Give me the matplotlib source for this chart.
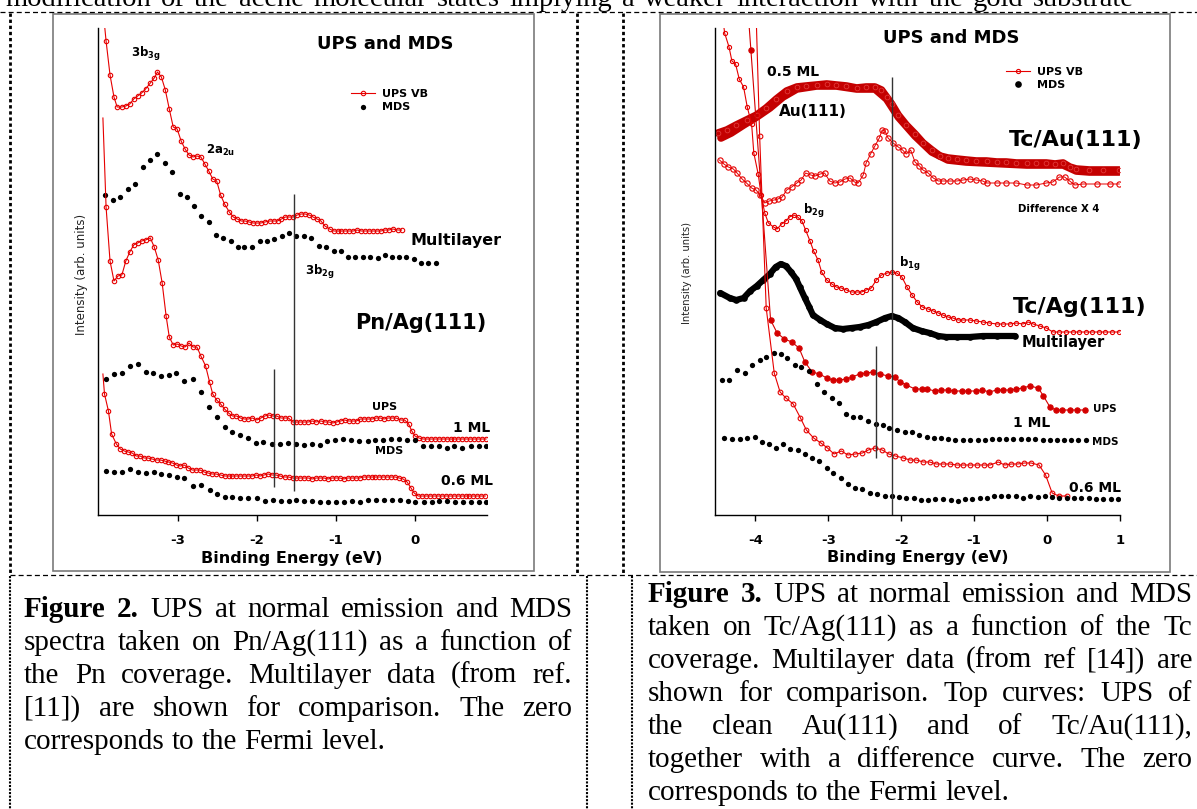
import matplotlib
matplotlib.use("Agg")
import matplotlib.pyplot as plt
from matplotlib.lines import Line2D
from matplotlib.patches import Rectangle

plt.rcParams["font.family"] = ["DejaVu Sans"]
plt.rcParams["axes.unicode_minus"] = False
plt.rcParams["mathtext.fontset"] = "dejavusans"

# ---------------- data: Pn/Ag(111) (figure 2) ----------------
pn_ml_ups_x = [-3.96, -3.91, -3.86, -3.81, -3.77, -3.71, -3.66, -3.61, -3.56, -3.51,
               -3.46, -3.41, -3.35, -3.30, -3.26, -3.21, -3.16, -3.11, -3.06, -3.01,
               -2.96, -2.91, -2.86, -2.81, -2.76, -2.71, -2.66, -2.61, -2.56, -2.51,
               -2.46, -2.41, -2.35, -2.30, -2.25, -2.20, -2.15, -2.10, -2.05, -2.00,
               -1.95, -1.90, -1.84, -1.79, -1.74, -1.69, -1.64, -1.59, -1.54, -1.49,
               -1.44, -1.39, -1.34, -1.29, -1.24, -1.19, -1.14, -1.08, -1.03, -0.98,
               -0.93, -0.88, -0.83, -0.78, -0.73, -0.68, -0.63, -0.58, -0.53, -0.48,
               -0.43, -0.38, -0.33, -0.28, -0.22, -0.17]
pn_ml_ups_y = [515, 474, 440, 418, 408, 408, 409, 411, 416, 419,
               422, 426, 432, 437, 443, 438, 425, 406, 388, 386,
               374, 366, 360, 358, 359, 358, 351, 344, 336, 334,
               320, 311, 303, 298, 296, 294, 294, 293, 292, 292,
               292, 293, 294, 294, 294, 296, 298, 298, 298, 300,
               301, 301, 300, 298, 296, 294, 289, 286, 284, 284,
               284, 284, 284, 284, 285, 284, 284, 284, 284, 284,
               284, 285, 285, 286, 285, 285]

pn_ml_mds_x = [-3.92, -3.82, -3.73, -3.63, -3.54, -3.44, -3.35, -3.26, -3.17, -3.08,
               -2.98, -2.89, -2.80, -2.71, -2.61, -2.52, -2.43, -2.33, -2.24, -2.16,
               -2.06, -1.96, -1.87, -1.78, -1.68, -1.59, -1.50, -1.41, -1.31, -1.22,
               -1.13, -1.03, -0.94, -0.85, -0.76, -0.66, -0.57, -0.47, -0.38, -0.29,
               -0.20, -0.11, -0.01, 0.08, 0.17, 0.27]
pn_ml_mds_y = [320, 315, 318, 326, 331, 348, 355, 361, 352, 343,
               321, 318, 309, 299, 293, 280, 277, 274, 268, 268,
               268, 274, 274, 276, 279, 282, 279, 279, 277, 269,
               268, 264, 264, 258, 258, 258, 258, 257, 260, 258,
               258, 258, 256, 252, 252, 252]

pn_1ml_ups_x = [-3.95, -3.91, -3.86, -3.81, -3.76, -3.71, -3.66, -3.61, -3.56, -3.51,
                -3.46, -3.41, -3.35, -3.30, -3.25, -3.20, -3.15, -3.11, -3.06, -3.01,
                -2.96, -2.91, -2.86, -2.81, -2.76, -2.71, -2.65, -2.60, -2.56, -2.51,
                -2.46, -2.41, -2.36, -2.31, -2.26, -2.21, -2.16, -2.11, -2.06, -2.00,
                -1.95, -1.90, -1.85, -1.80, -1.75, -1.70, -1.65, -1.60, -1.55, -1.50,
                -1.45, -1.40, -1.35, -1.30, -1.25, -1.19, -1.14, -1.09, -1.04, -0.99,
                -0.94, -0.89, -0.84, -0.79, -0.74, -0.69, -0.64, -0.59, -0.54, -0.49,
                -0.44, -0.39, -0.34, -0.29, -0.24, -0.18, -0.13, -0.08, -0.04, 0.00,
                0.05, 0.10, 0.15, 0.20, 0.25, 0.30, 0.35, 0.40, 0.45, 0.50,
                0.55, 0.60, 0.65, 0.70, 0.75, 0.80, 0.85, 0.90]
pn_1ml_ups_y = [397, 308, 254, 234, 239, 240, 254, 263, 270, 272,
                274, 275, 277, 268, 255, 232, 199, 178, 170, 171,
                169, 168, 172, 168, 168, 159, 149, 133, 121, 115,
                111, 106, 102, 99, 99, 97, 96, 96, 97, 95,
                97, 99, 100, 99, 99, 97, 97, 97, 93, 93,
                93, 93, 93, 94, 93, 94, 93, 93, 92, 93,
                94, 95, 94, 94, 94, 96, 96, 96, 96, 97,
                97, 96, 97, 97, 97, 95, 95, 91, 84, 79,
                77, 76, 76, 76, 76, 76, 76, 76, 76, 76,
                76, 76, 76, 76, 76, 76, 76, 76]

pn_1ml_mds_x = [-3.91, -3.81, -3.71, -3.61, -3.51, -3.41, -3.31, -3.21, -3.11, -3.02,
                -2.92, -2.81, -2.71, -2.61, -2.51, -2.41, -2.31, -2.22, -2.11, -2.01,
                -1.92, -1.81, -1.71, -1.61, -1.51, -1.41, -1.30, -1.20, -1.11, -1.01,
                -0.91, -0.81, -0.71, -0.60, -0.50, -0.40, -0.30, -0.20, -0.10, 0.00,
                0.10, 0.20, 0.30, 0.40, 0.50, 0.60, 0.71, 0.81, 0.90]
pn_1ml_mds_y = [136, 141, 142, 149, 151, 143, 142, 139, 140, 142,
                134, 136, 123, 108, 98, 88, 83, 80, 77, 72,
                73, 71, 71, 72, 71, 70, 71, 70, 74, 75,
                76, 75, 74, 74, 75, 75, 76, 76, 75, 75,
                69, 69, 69, 67, 69, 67, 69, 69, 69]

pn_06_ups_x = [-3.95, -3.93, -3.88, -3.84, -3.78, -3.73, -3.68, -3.63, -3.58, -3.53,
               -3.48, -3.43, -3.38, -3.33, -3.27, -3.22, -3.17, -3.12, -3.07, -3.02,
               -2.97, -2.92, -2.87, -2.82, -2.77, -2.72, -2.67, -2.62, -2.57, -2.52,
               -2.46, -2.41, -2.36, -2.31, -2.26, -2.21, -2.16, -2.11, -2.06, -2.01,
               -1.96, -1.91, -1.86, -1.81, -1.76, -1.71, -1.65, -1.60, -1.55, -1.50,
               -1.45, -1.40, -1.35, -1.30, -1.25, -1.20, -1.15, -1.10, -1.05, -1.00,
               -0.95, -0.90, -0.85, -0.80, -0.75, -0.70, -0.65, -0.60, -0.55, -0.50,
               -0.45, -0.40, -0.35, -0.30, -0.25, -0.20, -0.15, -0.10, -0.05, -0.01,
               0.04, 0.09, 0.14, 0.19, 0.24, 0.29, 0.34, 0.39, 0.44, 0.49,
               0.54, 0.59, 0.64, 0.69, 0.74, 0.79, 0.84, 0.89]
pn_06_ups_y = [141, 121, 104, 81, 71, 66, 64, 63, 62, 59,
               59, 57, 57, 56, 55, 55, 54, 53, 52, 50,
               49, 50, 47, 45, 45, 45, 43, 42, 41, 41,
               40, 39, 39, 39, 39, 39, 39, 39, 39, 40,
               39, 40, 41, 40, 40, 39, 38, 38, 37, 37,
               37, 37, 37, 36, 37, 37, 37, 36, 37, 37,
               37, 36, 37, 37, 37, 37, 38, 38, 38, 38,
               38, 38, 38, 38, 38, 37, 36, 33, 27, 22,
               19, 19, 19, 19, 19, 19, 19, 19, 19, 19,
               19, 19, 19, 19, 19, 19, 19, 19]

pn_06_mds_x = [-3.91, -3.81, -3.71, -3.61, -3.51, -3.41, -3.30, -3.21, -3.11, -3.01,
               -2.92, -2.81, -2.71, -2.60, -2.50, -2.41, -2.31, -2.21, -2.11, -2.00,
               -1.90, -1.80, -1.70, -1.60, -1.50, -1.40, -1.30, -1.20, -1.10, -1.00,
               -0.90, -0.80, -0.70, -0.60, -0.49, -0.39, -0.29, -0.19, -0.09, 0.00,
               0.11, 0.21, 0.31, 0.41, 0.51, 0.61, 0.71, 0.81, 0.90]
pn_06_mds_y = [44, 43, 43, 46, 43, 42, 43, 41, 40, 38,
               37, 29, 30, 25, 21, 18, 18, 17, 17, 17,
               14, 15, 14, 14, 15, 14, 14, 13, 13, 13,
               13, 14, 13, 15, 15, 15, 15, 15, 14, 13,
               13, 13, 14, 14, 13, 13, 13, 13, 13]

pn_marks = [-1.53, -1.78]          # vertical guide lines
pn_marks_top = [321, 146]
pn_marks_bottom = [24, 28]

# ---------------- data: Tc/Ag(111) and Tc/Au(111) (figure 3) ----------------
tc_ml_ups_x = [-4.45, -4.42, -4.36, -4.32, -4.27, -4.22, -4.16, -4.11, -4.05, -4.02,
               -3.96, -3.92, -3.87, -3.82, -3.75, -3.70, -3.64, -3.58, -3.53, -3.47,
               -3.42, -3.36, -3.31, -3.25, -3.20, -3.14, -3.09, -3.02, -2.95, -2.89,
               -2.82, -2.75, -2.68, -2.61, -2.54, -2.48, -2.41, -2.34, -2.27, -2.19,
               -2.12, -2.06, -1.99, -1.92, -1.85, -1.78, -1.71, -1.63, -1.56, -1.49,
               -1.43, -1.36, -1.29, -1.22, -1.15, -1.06, -0.97, -0.88, -0.79, -0.69,
               -0.60, -0.51, -0.42, -0.33, -0.26, -0.19, -0.10, -0.01, 0.08, 0.17,
               0.26, 0.35, 0.44, 0.53, 0.62, 0.71, 0.80, 0.89, 0.99]
tc_ml_ups_y = [500, 482, 468, 454, 451, 436, 428, 408, 391, 362,
               341, 320, 302, 292, 288, 286, 291, 294, 298, 300,
               298, 294, 285, 274, 264, 255, 243, 235, 231, 228,
               227, 225, 223, 223, 223, 225, 227, 235, 240, 242,
               243, 242, 238, 228, 220, 213, 208, 206, 204, 202,
               200, 198, 197, 195, 195, 195, 194, 193, 192, 191,
               191, 191, 192, 191, 193, 191, 189, 187, 183, 183,
               183, 183, 183, 183, 183, 183, 183, 183, 183]

tc_ml_mds_x = [-4.48, -4.35, -4.26, -4.16, -4.07, -3.98, -3.89, -3.80, -3.72, -3.65,
               -3.58, -3.51, -3.44, -3.39, -3.32, -3.26, -3.21, -3.11, -3.02, -2.91,
               -2.80, -2.68, -2.57, -2.45, -2.34, -2.22, -2.13, -2.04, -1.95, -1.84,
               -1.72, -1.61, -1.49, -1.38, -1.24, -1.06, -0.88, -0.69, -0.44]
tc_ml_mds_y = [222, 217, 215, 217, 224, 229, 235, 241, 248, 251,
               249, 243, 236, 228, 217, 208, 200, 195, 191, 187,
               186, 187, 188, 190, 193, 197, 199, 197, 193, 187,
               184, 182, 179, 178, 178, 178, 179, 179, 179]

tcau_x = [-4.51, -4.39, -4.26, -4.12, -3.98, -3.85, -3.71, -3.57, -3.43, -3.30,
          -3.16, -3.02, -2.89, -2.75, -2.61, -2.48, -2.36, -2.27, -2.20, -2.13,
          -2.04, -1.93, -1.81, -1.70, -1.58, -1.47, -1.36, -1.24, -1.11, -0.97,
          -0.83, -0.69, -0.56, -0.42, -0.28, -0.15, -0.01, 0.11, 0.22, 0.31,
          0.40, 0.58, 0.77, 0.99]
tcau_y = [382, 385, 390, 395, 400, 407, 416, 424, 428, 429,
          430, 431, 430, 429, 427, 428, 428, 425, 418, 411,
          400, 390, 381, 372, 365, 359, 357, 356, 355, 354,
          354, 353, 353, 352, 352, 352, 352, 351, 352, 348,
          346, 345, 345, 345]

au_x = [-4.47, -4.33, -4.16, -3.98, -3.80, -3.62, -3.43, -3.16, -2.89, -2.61,
        -2.36, -2.20, -2.04, -1.81, -1.58, -1.36, -1.11, -0.83, -0.56, -0.28,
        -0.01, 0.22, 0.31, 0.40, 0.58, 0.99]
au_y = [377, 382, 390, 398, 407, 418, 426, 429, 429, 426,
        426, 416, 398, 379, 363, 355, 353, 352, 351, 350,
        350, 350, 347, 344, 343, 343]

diff_x = [-4.49, -4.43, -4.37, -4.30, -4.25, -4.18, -4.12, -4.05, -3.99, -3.93,
          -3.87, -3.81, -3.74, -3.69, -3.63, -3.57, -3.50, -3.43, -3.37, -3.31,
          -3.24, -3.18, -3.11, -3.05, -2.98, -2.91, -2.84, -2.77, -2.70, -2.64,
          -2.59, -2.52, -2.48, -2.42, -2.36, -2.30, -2.26, -2.22, -2.18, -2.11,
          -2.04, -1.98, -1.93, -1.87, -1.81, -1.75, -1.70, -1.63, -1.56, -1.49,
          -1.43, -1.33, -1.24, -1.15, -1.06, -0.97, -0.88, -0.83, -0.69, -0.56,
          -0.42, -0.28, -0.15, -0.01, 0.08, 0.17, 0.24, 0.31, 0.38, 0.49,
          0.68, 0.86, 0.99]
diff_y = [355, 351, 348, 346, 342, 336, 332, 327, 325, 320,
          312, 314, 315, 316, 318, 325, 328, 332, 335, 342,
          340, 339, 341, 342, 334, 332, 333, 336, 337, 333,
          332, 340, 352, 361, 369, 377, 385, 384, 377, 372,
          368, 365, 361, 365, 353, 349, 345, 342, 337, 334,
          334, 334, 334, 335, 336, 335, 334, 332, 332, 332,
          332, 330, 330, 332, 333, 338, 338, 334, 330, 331,
          331, 331, 331]

tc_1ml_ups_x = [-4.10, -4.06, -3.79, -3.70, -3.60, -3.50, -3.40, -3.32, -3.22, -3.12,
                -3.02, -2.94, -2.85, -2.75, -2.67, -2.57, -2.48, -2.38, -2.29, -2.18,
                -2.09, -2.01, -1.93, -1.81, -1.72, -1.64, -1.54, -1.45, -1.36, -1.27,
                -1.17, -1.08, -0.98, -0.89, -0.79, -0.69, -0.61, -0.51, -0.42, -0.33,
                -0.24, -0.12, -0.05, 0.04, 0.12, 0.21, 0.31, 0.41, 0.52]
tc_1ml_ups_y = [505, 465, 195, 182, 176, 173, 167, 153, 143, 141,
                137, 135, 135, 136, 138, 141, 142, 143, 141, 139,
                138, 133, 130, 126, 126, 126, 124, 125, 125, 124,
                124, 124, 124, 125, 123, 125, 125, 125, 126, 127,
                129, 127, 119, 108, 105, 105, 105, 105, 105]

tc_1ml_mds_x = [-4.46, -4.36, -4.25, -4.14, -4.05, -3.94, -3.85, -3.75, -3.65, -3.56,
                -3.46, -3.37, -3.26, -3.16, -3.06, -2.95, -2.85, -2.76, -2.66, -2.56,
                -2.45, -2.35, -2.25, -2.16, -2.06, -1.95, -1.85, -1.75, -1.65, -1.55,
                -1.45, -1.36, -1.26, -1.15, -1.05, -0.95, -0.85, -0.75, -0.66, -0.56,
                -0.46, -0.36, -0.26, -0.16, -0.06, 0.04, 0.14, 0.23, 0.33, 0.43,
                0.54]
tc_1ml_mds_y = [135, 135, 145, 142, 150, 155, 158, 162, 161, 157,
                150, 148, 144, 131, 123, 117, 112, 101, 98, 98,
                94, 91, 90, 87, 85, 83, 83, 80, 78, 77,
                77, 76, 75, 75, 75, 75, 75, 76, 76, 76,
                76, 76, 76, 76, 75, 75, 75, 75, 75, 75,
                75]

tc_06_ups_x = [-3.99, -3.94, -3.85, -3.74, -3.66, -3.58, -3.48, -3.38, -3.30, -3.20,
               -3.10, -3.01, -2.92, -2.82, -2.73, -2.63, -2.53, -2.45, -2.36, -2.26,
               -2.17, -2.08, -1.97, -1.88, -1.79, -1.70, -1.61, -1.52, -1.43, -1.33,
               -1.24, -1.15, -1.05, -0.96, -0.87, -0.78, -0.67, -0.58, -0.49, -0.40,
               -0.31, -0.22, -0.11, -0.02, 0.07, 0.16, 0.27]
tc_06_ups_y = [505, 379, 207, 142, 123, 117, 111, 97, 85, 77,
               72, 67, 61, 64, 60, 61, 62, 65, 67, 65,
               61, 59, 57, 55, 55, 53, 53, 51, 51, 51,
               50, 50, 50, 50, 50, 50, 53, 50, 51, 51,
               52, 52, 50, 40, 22, 19, 19]

tc_06_mds_x = [-4.43, -4.32, -4.21, -4.11, -4.01, -3.91, -3.81, -3.72, -3.62, -3.52,
               -3.42, -3.32, -3.22, -3.12, -3.02, -2.93, -2.83, -2.73, -2.63, -2.53,
               -2.43, -2.33, -2.22, -2.13, -2.03, -1.93, -1.83, -1.73, -1.63, -1.53,
               -1.43, -1.32, -1.22, -1.13, -1.03, -0.92, -0.82, -0.73, -0.63, -0.53,
               -0.43, -0.33, -0.23, -0.13, -0.03, 0.07, 0.16, 0.27, 0.37, 0.47,
               0.57, 0.67, 0.77, 0.87, 0.97]
tc_06_mds_y = [77, 76, 76, 77, 78, 73, 71, 67, 71, 66,
               65, 61, 57, 54, 47, 42, 37, 31, 27, 26,
               22, 21, 19, 19, 18, 17, 17, 15, 15, 16,
               16, 15, 14, 16, 16, 17, 17, 19, 19, 19,
               19, 17, 19, 18, 19, 18, 17, 17, 17, 17,
               17, 16, 16, 16, 16]

tc_marks = [-2.12, -2.34]
tc_marks_top = [438, 169]
tc_marks_bottom = [0, 57]

# ---------------- text ----------------
top_text = ("modification of the acene molecular states implying a weaker "
            "interaction with the gold substrate")
caption2 = ["Figure 2. UPS at normal emission and MDS",
            "spectra taken on Pn/Ag(111) as a function of",
            "the Pn coverage. Multilayer data (from ref.",
            "[11]) are shown for comparison. The zero",
            "corresponds to the Fermi level."]
caption3 = ["Figure 3. UPS at normal emission and MDS",
            "taken on Tc/Ag(111) as a function of the Tc",
            "coverage. Multilayer data (from ref [14]) are",
            "shown for comparison. Top curves: UPS of",
            "the clean Au(111) and of Tc/Au(111),",
            "together with a difference curve. The zero",
            "corresponds to the Fermi level."]

# ---------------- figure ----------------
W, H = 1197, 809
fig = plt.figure(figsize=(W / 100, H / 100), dpi=100)
renderer = fig.canvas.get_renderer()

RED = "#e60000"
DARKRED = "#c40000"


def fx(px):
    return px / W


def fy(py):
    return 1 - py / H


def box(l, t, r, b):
    return [l / W, 1 - b / H, (r - l) / W, (b - t) / H]


def ups(ax, x, y, color, filled=False, ms=3.2, lead=1):
    line, = ax.plot(x, y, "-", color=color, lw=0.8)
    marks, = ax.plot(x[lead:], y[lead:], "o", ms=ms, mec=color,
                     mfc=color if filled else "none", mew=0.8)
    return line, marks


def mds(ax, x, y, ms=3.8):
    marks, = ax.plot(x, y, "o", color="black", ms=ms, mew=0)
    return marks


def style_axes(ax, ticks):
    for s in ["top", "right"]:
        ax.spines[s].set_visible(False)
    ax.spines["left"].set_linewidth(1.0)
    ax.spines["bottom"].set_linewidth(1.0)
    ax.set_yticks([])
    ax.set_xticks(ticks)
    ax.set_xticklabels([str(t) for t in ticks], fontsize=9.5, fontweight="bold")
    ax.tick_params(axis="x", direction="out", length=4, width=1, pad=10)
    ax.patch.set_alpha(0)


def label(ax, x, y, s, size, ha="left", va="center", weight="bold"):
    ax.text(x, y, s, fontsize=size, fontweight=weight, ha=ha, va=va)


# ---- left chart: Pn/Ag(111)
axL = fig.add_axes(box(97.7, 28.3, 486.7, 515))
axL.set_xlim(-4.016, 0.908)
axL.set_ylim(0, 486.7)
style_axes(axL, [-3, -2, -1, 0])

l_ups = ups(axL, pn_ml_ups_x, pn_ml_ups_y, RED)
l_mds = mds(axL, pn_ml_mds_x, pn_ml_mds_y)
ups(axL, pn_1ml_ups_x, pn_1ml_ups_y, RED)
mds(axL, pn_1ml_mds_x, pn_1ml_mds_y)
ups(axL, pn_06_ups_x, pn_06_ups_y, RED)
mds(axL, pn_06_mds_x, pn_06_mds_y)
axL.vlines(pn_marks, pn_marks_bottom, pn_marks_top, color="#333333", lw=1)

axL.set_xlabel("Binding Energy (eV)", fontsize=11.5, fontweight="bold")
axL.xaxis.set_label_coords(0.5, -0.09)
axL.xaxis.label.set_va("center")
axL.set_ylabel("Intensity (arb. units)", fontsize=8.5, color="#222222")
axL.yaxis.set_label_coords(-0.041, 0.495)
axL.yaxis.label.set_va("center")

label(axL, -0.37, 471, "UPS and MDS", 13, ha="center")
label(axL, -3.59, 458, r"$\mathbf{3b}_{\mathbf{3g}}$", 8.5, va="baseline")
label(axL, -2.64, 361, r"$\mathbf{2a}_{\mathbf{2u}}$", 8.5, va="baseline")
label(axL, -1.39, 240, r"$\mathbf{3b}_{\mathbf{2g}}$", 8.5, va="baseline")
label(axL, -0.06, 274, "Multilayer", 11.5)
label(axL, -0.76, 192, "Pn/Ag(111)", 15)
label(axL, -0.55, 108, "UPS", 8)
label(axL, 0.48, 87, "1 ML", 10)
label(axL, -0.51, 64, "MDS", 8)
label(axL, 0.33, 34, "0.6 ML", 10)
axL.legend([l_ups, l_mds], ["UPS VB", "MDS"], loc="upper left",
           bbox_to_anchor=(0.65, 0.875), frameon=False, borderpad=0,
           borderaxespad=0, handlelength=2.2, handletextpad=0.6,
           labelspacing=0.3, numpoints=1,
           prop={"weight": "bold", "size": 8})

# ---- right chart: Tc/Ag(111), Tc/Au(111)
axR = fig.add_axes(box(715, 28.3, 1120, 515))
axR.set_xlim(-4.552, 0.996)
axR.set_ylim(0, 486.7)
style_axes(axR, [-4, -3, -2, -1, 0, 1])

axR.plot(au_x, au_y, "-", color=DARKRED, lw=5.5, solid_capstyle="round")
axR.plot(tcau_x, tcau_y, "-", color=DARKRED, lw=5.5, solid_capstyle="round")
axR.plot(tcau_x, tcau_y, "o", ms=3.4, mec="#e23a3a", mfc="none", mew=0.6)
axR.plot(diff_x, diff_y, "-", color=RED, lw=0.7)
axR.plot(diff_x, diff_y, "o", ms=3.8, mec=RED, mfc="none", mew=0.8)
r_ups = ups(axR, tc_ml_ups_x, tc_ml_ups_y, RED, ms=3.0)
axR.plot(tc_ml_mds_x, tc_ml_mds_y, "-", color="black", lw=4.5,
         solid_capstyle="round")
r_mds = mds(axR, tc_ml_mds_x, tc_ml_mds_y, ms=4.8)
ups(axR, tc_1ml_ups_x, tc_1ml_ups_y, "#d40000", filled=True, ms=3.8)
mds(axR, tc_1ml_mds_x, tc_1ml_mds_y)
ups(axR, tc_06_ups_x, tc_06_ups_y, RED, ms=3.4)
mds(axR, tc_06_mds_x, tc_06_mds_y)
axR.vlines(tc_marks, tc_marks_bottom, tc_marks_top, color="#333333", lw=1)

axR.set_xlabel("Binding Energy (eV)", fontsize=11.5, fontweight="bold")
axR.xaxis.set_label_coords(0.5, -0.088)
axR.xaxis.label.set_va("center")
axR.set_ylabel("Intensity (arb. units)", fontsize=7.2, color="#222222")
axR.yaxis.set_label_coords(-0.070, 0.497)
axR.yaxis.label.set_va("center")

label(axR, -1.31, 477, "UPS and MDS", 13, ha="center")
label(axR, -3.84, 443, "0.5 ML", 10)
label(axR, -3.67, 403, "Au(111)", 11)
label(axR, -0.53, 375, "Tc/Au(111)", 16)
label(axR, -0.40, 306, "Difference X 4", 7.3)
label(axR, -3.34, 301, r"$\mathbf{b}_{\mathbf{2g}}$", 8.5, va="baseline")
label(axR, -2.03, 248, r"$\mathbf{b}_{\mathbf{1g}}$", 8.5, va="baseline")
label(axR, -0.47, 208, "Tc/Ag(111)", 16)
label(axR, -0.35, 172, "Multilayer", 10.5)
label(axR, 0.63, 106, "UPS", 7.5)
label(axR, -0.47, 92, "1 ML", 10)
label(axR, 0.61, 73, "MDS", 7.5)
label(axR, 0.30, 27, "0.6 ML", 10)
axR.legend([r_ups, r_mds], ["UPS VB", "MDS"], loc="upper left",
           bbox_to_anchor=(0.7185, 0.921), frameon=False, borderpad=0,
           borderaxespad=0, handlelength=2.2, handletextpad=0.6,
           labelspacing=0.3, numpoints=1,
           prop={"weight": "bold", "size": 8})

# ---- frames and dotted page rules
for l, t, r, b in [(53, 14, 534, 571), (660, 14, 1170, 572)]:
    fig.add_artist(Rectangle((fx(l), fy(b)), (r - l) / W, (b - t) / H,
                             transform=fig.transFigure, fill=False,
                             ec="#7a7a7a", lw=1.2))


def rule(x0, y0, x1, y1, lw, dash):
    fig.add_artist(Line2D([fx(x0), fx(x1)], [fy(y0), fy(y1)],
                          transform=fig.transFigure, color="black",
                          lw=lw, linestyle=(0, dash)))


rule(0, 12, W, 12, 0.9, (4, 2.5))
rule(10, 575, W, 575, 0.9, (4, 2.5))
for x in [10, 577, 623]:
    rule(x, 13, x, 575, 2.0, (1.2, 1.0))
for x in [10, 587, 632]:
    rule(x, 576, x, H, 1.5, (1.0, 0.7))


# ---- justified serif text
def put_line(text, x0, x1, base, size, justify=True, bold_words=0):
    words = text.split()
    objs, widths = [], []
    for i, w in enumerate(words):
        t = fig.text(0, fy(base), w, fontsize=size, family="Liberation Serif",
                     fontweight="bold" if i < bold_words else "normal",
                     va="baseline", ha="left")
        widths.append(t.get_window_extent(renderer).width)
        objs.append(t)
    if justify and len(words) > 1:
        gap = (x1 - x0 - sum(widths)) / (len(words) - 1)
    else:
        gap = size * 0.25 * 100 / 72
    x = x0
    for t, wd in zip(objs, widths):
        t.set_x(fx(x))
        x += wd + gap


put_line(top_text, 5, 1134, 6, 20.5)
for i, line in enumerate(caption2):
    put_line(line, 24, 572, 617 + 33 * i, 21,
             justify=i < len(caption2) - 1, bold_words=2 if i == 0 else 0)
for i, line in enumerate(caption3):
    put_line(line, 648, 1192, 602 + 33 * i, 21,
             justify=i < len(caption3) - 1, bold_words=2 if i == 0 else 0)

fig.savefig("out.png", dpi=100)
